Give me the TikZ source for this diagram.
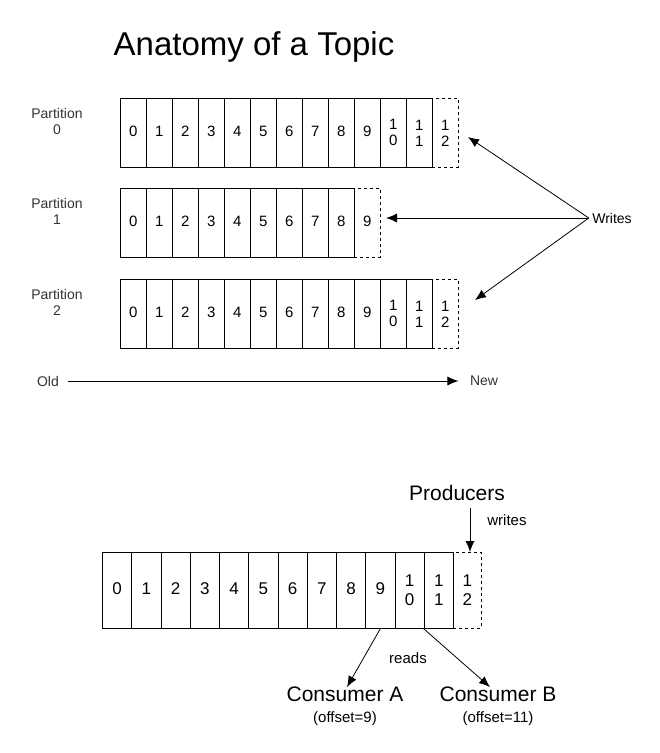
\documentclass[tikz,border=0pt]{standalone}
\usepackage{fontspec}
\setmainfont{Liberation Sans}
\usetikzlibrary{arrows.meta}
\begin{document}
\begin{tikzpicture}[x=1pt,y=-1pt,
  cell/.style={draw,line width=0.8pt,minimum width=#1,minimum height=69pt,inner sep=0pt,anchor=north west,font=\fontsize{15}{16}\selectfont,align=center},
  dcell/.style={cell=#1,dashed},
  lbl/.style={font=\fontsize{14}{16}\selectfont,text=black!80,align=center},
  arr/.style={-{Latex[length=11pt,width=9pt]},line width=0.8pt}]
\useasboundingbox (0,0) rectangle (660,753);
\node[font=\fontsize{33}{36}\selectfont] (title) at (254,47) {Anatomy of a Topic};
% top partitions
\foreach \p/\y/\n in {0/98/12,1/188/9,2/279/12}{
  \node[lbl] (lab\p) at (57,\y+23) {Partition\\\p};
  \foreach \i in {0,...,\n}{
    \ifnum\i<10 \edef\t{\noexpand\strut\i}\else\pgfmathtruncatemacro{\ones}{\i-10}\edef\t{1\noexpand\\\ones}\fi
    \ifnum\i=\n
      \node[dcell=26pt] (p\p c\i) at (120+26*\i,\y) {\t};
    \else
      \node[cell=26pt] (p\p c\i) at (120+26*\i,\y) {\t};
    \fi
  }
}
\node[lbl,text=black] (writes) at (612,218) {Writes};
\coordinate (w0) at (468,137);
\coordinate (w1) at (386,218);
\coordinate (w2) at (475,300);
\draw[arr] (writes.west) -- (w0);
\draw[arr] (writes.west) -- (w1);
\draw[arr] (writes.west) -- (w2);
\node[lbl] (old) at (48,381) {Old};
\node[lbl] (new) at (484,381) {New};
\draw[arr] ([xshift=6pt]old.east) -- ([xshift=-8pt]new.west);
% bottom log
\foreach \i in {0,...,12}{
  \ifnum\i<10 \edef\t{\noexpand\strut\i}\else\pgfmathtruncatemacro{\ones}{\i-10}\edef\t{1\noexpand\\\ones}\fi
  \ifnum\i=12
    \node[dcell=28pt,minimum height=76pt,font=\fontsize{17}{19}\selectfont] (b\i) at (102+29.25*\i,552) {\t};
  \else
    \node[cell=29.25pt,minimum height=76pt,font=\fontsize{17}{19}\selectfont] (b\i) at (102+29.25*\i,552) {\t};
  \fi
}
\node[font=\fontsize{21}{22}\selectfont] (prod) at (457,493) {Producers};
\node[font=\fontsize{15}{16}\selectfont] (wr) at (507,520) {writes};
\draw[arr] (470,508) -- (b12.north west-|470,0);
\node[font=\fontsize{21}{22}\selectfont] (ca) at (345,694) {Consumer A};
\node[font=\fontsize{15}{16}\selectfont] (cao) at (345,719) {(offset=9)};
\node[font=\fontsize{21}{22}\selectfont] (cb) at (498,694) {Consumer B};
\node[font=\fontsize{15}{16}\selectfont] (cbo) at (498,719) {(offset=11)};
\node[font=\fontsize{15}{16}\selectfont] (reads) at (408,658) {reads};
\draw[arr] (b9.south) -- ([xshift=2pt,yshift=-4pt]ca.north);
\draw[arr] (b11.south west) -- ([xshift=-8pt,yshift=-4pt]cb.north);
\end{tikzpicture}
\end{document}
